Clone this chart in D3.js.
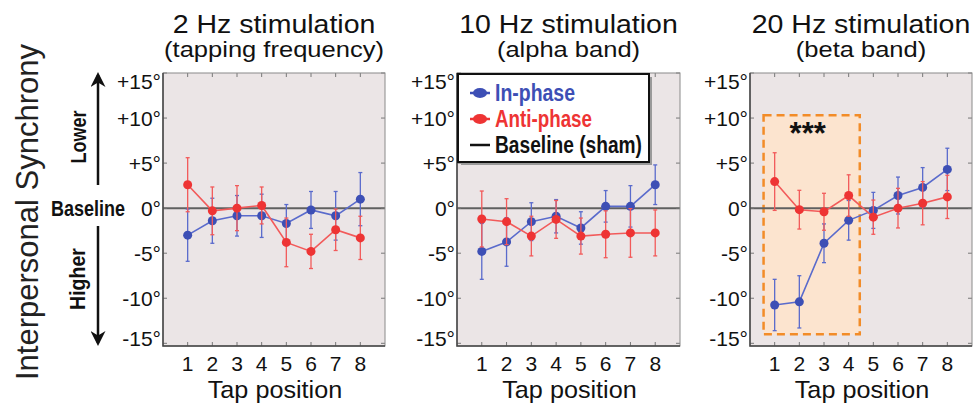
<!DOCTYPE html>
<html>
<head>
<meta charset="utf-8">
<script src="https://cdn.jsdelivr.net/npm/d3@7"></script>
<style>
  html, body { margin: 0; padding: 0; background: #fff; }
  svg { display: block; }
</style>
</head>
<body>
<div id="chart"></div>
<script>
// Tap positions and y ticks
const tapPositions = [1, 2, 3, 4, 5, 6, 7, 8];
const yTicks = [-15, -10, -5, 0, 5, 10, 15];

const panelTitles = ['2 Hz stimulation', '10 Hz stimulation', '20 Hz stimulation'];
const panelSubtitles = ['(tapping frequency)', '(alpha band)', '(beta band)'];

// In-phase (blue) means and error bars
const inPhase2 = [-3.0, -1.4, -0.85, -0.85, -1.7, -0.2, -0.85, 1.0];
const inPhase2Err = [2.9, 2.5, 2.25, 2.4, 2.1, 2.05, 2.7, 2.95];
const inPhase10 = [-4.8, -3.75, -1.5, -0.9, -2.2, 0.2, 0.2, 2.6];
const inPhase10Err = [3.1, 2.7, 2.1, 1.85, 1.8, 1.75, 2.3, 2.2];
const inPhase20 = [-10.75, -10.4, -3.9, -1.35, -0.25, 1.4, 2.3, 4.3];
const inPhase20Err = [2.85, 2.9, 2.15, 2.2, 2.0, 2.05, 2.2, 2.35];

// Anti-phase (red) means and error bars
const antiPhase2 = [2.6, -0.3, 0.0, 0.3, -3.8, -4.8, -2.4, -3.3];
const antiPhase2Err = [3.0, 2.65, 2.5, 2.05, 2.7, 1.9, 2.3, 2.4];
const antiPhase10 = [-1.2, -1.5, -3.1, -1.25, -3.1, -2.9, -2.75, -2.75];
const antiPhase10Err = [3.1, 2.55, 2.2, 2.1, 2.0, 2.6, 2.7, 2.55];
const antiPhase20 = [2.95, -0.17, -0.4, 1.4, -1.0, 0.0, 0.55, 1.25];
const antiPhase20Err = [3.2, 2.15, 2.05, 2.3, 1.9, 2.2, 2.4, 2.4];

// Significant window in the 20 Hz panel (tap units / degrees)
const sigX = [0.55, 4.45];
const sigY = [-14, 10.3];
const sigLabel = '***';

const legendLabels = ['In-phase', 'Anti-phase', 'Baseline (sham)'];
const legendWidths = [80, 97, 147];

const BLUE = '#3d4fb5', BLUE_L = '#5a6bcc';
const RED = '#ee3434', RED_L = '#f25a5a';
const BG = '#ebe5e6';
const FONT = '"Liberation Sans", Arial, sans-serif';

const W = 973, H = 405;
const plotTop = 73, plotBottom = 346;
const panelX = [[163, 385], [457, 680], [750, 972]];

const panels = [
  { inP: inPhase2, inE: inPhase2Err, anP: antiPhase2, anE: antiPhase2Err },
  { inP: inPhase10, inE: inPhase10Err, anP: antiPhase10, anE: antiPhase10Err, legend: true },
  { inP: inPhase20, inE: inPhase20Err, anP: antiPhase20, anE: antiPhase20Err, sig: true },
];

const svg = d3.select('#chart').append('svg')
  .attr('width', W).attr('height', H)
  .style('font-family', FONT);

// the source figure's lettering is slightly widened
function wideText(g, x, yy, str, size, sx) {
  return g.append('text')
    .attr('transform', `translate(${x},${yy}) scale(${sx},1)`)
    .attr('text-anchor', 'middle')
    .style('font-size', size + 'px').style('fill', '#111')
    .text(str);
}

// condensed bold labels, squeezed to the width seen in the figure
function narrowText(sel, str, len) {
  return sel.style('font-weight', 'bold')
    .attr('textLength', len).attr('lengthAdjust', 'spacingAndGlyphs')
    .text(str);
}

const y = d3.scaleLinear().domain([-15.3, 15]).range([plotBottom, plotTop]);

panels.forEach((p, pi) => {
  const [x0, x1] = panelX[pi];
  const x = d3.scaleLinear().domain([0, 9]).range([x0, x1]);
  const g = svg.append('g');

  g.append('rect')
    .attr('x', x0).attr('y', plotTop)
    .attr('width', x1 - x0).attr('height', plotBottom - plotTop)
    .attr('fill', BG);

  // titles
  const cx = (x0 + x1) / 2;
  wideText(g, cx, 33, panelTitles[pi], 25, 1.14);
  wideText(g, cx, 57, panelSubtitles[pi], 22, 1.16);

  if (p.sig) {
    g.append('rect')
      .attr('x', x(sigX[0])).attr('y', y(sigY[1]))
      .attr('width', x(sigX[1]) - x(sigX[0]))
      .attr('height', y(sigY[0]) - y(sigY[1]))
      .attr('fill', '#fce4cf')
      .attr('stroke', '#f28c28')
      .attr('stroke-width', 2.5)
      .attr('stroke-dasharray', '8,5');
    g.append('text')
      .attr('x', x((sigX[0] + sigX[1]) / 2) - 4).attr('y', y(sigY[1]) + 29)
      .attr('text-anchor', 'middle')
      .style('font-size', '31px').style('font-weight', 'bold').style('fill', '#111')
      .text(sigLabel);
  }

  // baseline at 0
  g.append('line')
    .attr('x1', x0).attr('x2', x1)
    .attr('y1', y(0)).attr('y2', y(0))
    .attr('stroke', '#606060').attr('stroke-width', 2);

  // inward ticks on all four sides
  tapPositions.forEach(t => {
    [[plotBottom, -4], [plotTop, 4]].forEach(([yy, d]) => {
      g.append('line').attr('x1', x(t)).attr('x2', x(t))
        .attr('y1', yy).attr('y2', yy + d)
        .attr('stroke', '#777').attr('stroke-width', 1);
    });
  });
  yTicks.forEach(t => {
    [[x0, 4], [x1, -4]].forEach(([xx, d]) => {
      g.append('line').attr('x1', xx).attr('x2', xx + d)
        .attr('y1', y(t)).attr('y2', y(t))
        .attr('stroke', '#777').attr('stroke-width', 1);
    });
  });

  // frame
  g.append('rect')
    .attr('x', x0).attr('y', plotTop)
    .attr('width', x1 - x0).attr('height', plotBottom - plotTop)
    .attr('fill', 'none').attr('stroke', '#8a8a8a').attr('stroke-width', 1);
  g.append('path')
    .attr('d', `M${x0},${plotTop}V${plotBottom}H${x1}`)
    .attr('fill', 'none').attr('stroke', '#444').attr('stroke-width', 1.5);

  // y tick labels
  yTicks.forEach(t => {
    const lbl = (t > 0 ? `+${t}` : `${t}`) + '°';
    const nudge = t === 15 ? 8 : (t === -15 ? -5 : 0);
    g.append('text')
      .attr('x', x0 - 2).attr('y', y(t) + nudge)
      .attr('dy', '0.36em')
      .attr('text-anchor', 'end')
      .style('font-size', '21px').style('fill', '#111')
      .text(lbl);
  });

  // x tick labels
  tapPositions.forEach(t => {
    g.append('text')
      .attr('x', x(t)).attr('y', 371)
      .attr('text-anchor', 'middle')
      .style('font-size', '21px').style('fill', '#111')
      .text(t);
  });
  g.append('text').attr('x', cx + 1).attr('y', 398)
    .attr('text-anchor', 'middle').style('font-size', '24px').style('fill', '#111')
    .attr('transform', `translate(${cx + 1},0) scale(1.05,1) translate(${-(cx + 1)},0)`)
    .text('Tap position');

  // series
  const series = [
    { v: p.inP, e: p.inE, c: BLUE, cl: BLUE_L },
    { v: p.anP, e: p.anE, c: RED, cl: RED_L },
  ];
  series.forEach(s => {
    const pts = tapPositions.map((t, i) => [t, s.v[i], s.e[i]]);
    // error bars
    pts.forEach(([t, v, e]) => {
      g.append('line').attr('x1', x(t)).attr('x2', x(t))
        .attr('y1', y(v - e)).attr('y2', y(v + e))
        .attr('stroke', s.cl).attr('stroke-width', 1.3);
      [v - e, v + e].forEach(yy => {
        g.append('line').attr('x1', x(t) - 2).attr('x2', x(t) + 2)
          .attr('y1', y(yy)).attr('y2', y(yy))
          .attr('stroke', s.cl).attr('stroke-width', 1.3);
      });
    });
    g.append('path')
      .datum(pts)
      .attr('d', d3.line().x(d => x(d[0])).y(d => y(d[1])))
      .attr('fill', 'none').attr('stroke', s.cl).attr('stroke-width', 1.6);
    g.selectAll(null).data(pts).join('circle')
      .attr('cx', d => x(d[0])).attr('cy', d => y(d[1]))
      .attr('r', 4.5).attr('fill', s.c);
  });

  if (p.legend) {
    const lx = 458, ly = 74, lw = 191, lh = 88;
    g.append('rect').attr('x', lx + 3).attr('y', ly + 3)
      .attr('width', lw).attr('height', lh).attr('fill', '#9a9a9a');
    g.append('rect').attr('x', lx).attr('y', ly)
      .attr('width', lw).attr('height', lh)
      .attr('fill', '#fff').attr('stroke', '#111').attr('stroke-width', 2);
    const cols = [BLUE, RED, '#111'];
    legendLabels.forEach((lab, i) => {
      const yy = ly + 19 + i * 26;
      g.append('line').attr('x1', lx + 12).attr('x2', lx + 32)
        .attr('y1', yy).attr('y2', yy)
        .attr('stroke', cols[i]).attr('stroke-width', 2.5);
      if (i < 2) {
        g.append('ellipse').attr('cx', lx + 22).attr('cy', yy)
          .attr('rx', 7).attr('ry', 5).attr('fill', cols[i]);
      }
      narrowText(g.append('text').attr('x', lx + 37).attr('y', yy)
        .attr('dy', '0.36em')
        .style('font-size', '23px').style('fill', cols[i]), lab, legendWidths[i]);
    });
  }
});

// left annotations
svg.append('text')
  .attr('transform', `translate(38,212) rotate(-90)`)
  .attr('text-anchor', 'middle')
  .style('font-size', '31px').style('fill', '#222')
  .text('Interpersonal Synchrony');

narrowText(svg.append('text')
  .attr('transform', `translate(86,137) rotate(-90)`)
  .attr('text-anchor', 'middle')
  .style('font-size', '22px').style('fill', '#111'), 'Lower', 53);
narrowText(svg.append('text')
  .attr('transform', `translate(85,279) rotate(-90)`)
  .attr('text-anchor', 'middle')
  .style('font-size', '22px').style('fill', '#111'), 'Higher', 62);
narrowText(svg.append('text')
  .attr('x', 51).attr('y', y(0))
  .attr('dy', '0.36em')
  .style('font-size', '22px').style('fill', '#111'), 'Baseline', 74);

// arrows
const defs = svg.append('defs');
defs.append('marker').attr('id', 'ah')
  .attr('viewBox', '0 0 10 10').attr('refX', 8).attr('refY', 5)
  .attr('markerWidth', 6).attr('markerHeight', 6)
  .attr('orient', 'auto')
  .append('path').attr('d', 'M0,0 L10,5 L0,10 L3,5 Z').attr('fill', '#111');

svg.append('line').attr('x1', 98).attr('x2', 98)
  .attr('y1', 185).attr('y2', 75)
  .attr('stroke', '#111').attr('stroke-width', 2.5)
  .attr('marker-end', 'url(#ah)');
svg.append('line').attr('x1', 98).attr('x2', 98)
  .attr('y1', 226).attr('y2', 343)
  .attr('stroke', '#111').attr('stroke-width', 2.5)
  .attr('marker-end', 'url(#ah)');
</script>
</body>
</html>
